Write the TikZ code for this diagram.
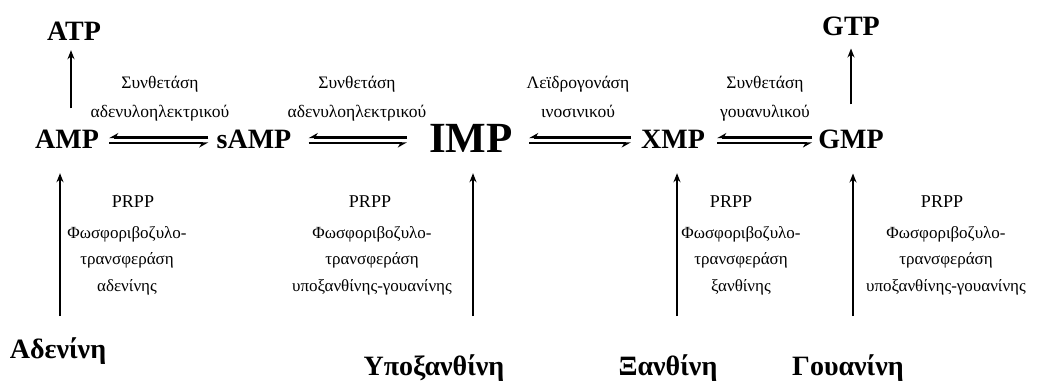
\documentclass[tikz,border=0pt]{standalone}
\usepackage{fontspec}
\setmainfont{Liberation Serif}
\usetikzlibrary{arrows.meta,positioning}

\begin{document}
\begin{tikzpicture}[x=1pt, y=-1pt, >={Stealth[length=9pt,width=7pt]},
    nucl/.style={font=\fontsize{28}{28}\selectfont\bfseries, inner sep=0pt, anchor=base},
    enz/.style={font=\fontsize{17.5}{28.5}\selectfont, inner sep=0pt, anchor=base, align=center},
    salv/.style={enz, font=\fontsize{17}{26.5}\selectfont},
    prpp/.style={font=\fontsize{18}{18}\selectfont, inner sep=0pt, anchor=base},
    up/.style={->, line width=2.4pt},
    eqline/.style={line width=2.4pt, -{Stealth[harpoon,swap,length=8pt,width=9pt]}}]

\useasboundingbox (0,0) rectangle (1046,386);

% nucleotides
\node[nucl] (atp) at (74, 40) {ATP};
\node[nucl] (gtp) at (851, 35) {GTP};
\node[nucl] (amp) at (67, 148) {AMP};
\node[nucl] (samp) at (254, 148) {sAMP};
\node[nucl, font=\fontsize{43}{43}\selectfont\bfseries] (imp) at (471, 152) {IMP};
\node[nucl] (xmp) at (673, 148) {XMP};
\node[nucl] (gmp) at (851, 148) {GMP};

% bases
\node[nucl] (ade) at (58, 358) {Αδενίνη};
\node[nucl] (hyp) at (434, 375) {Υποξανθίνη};
\node[nucl] (xan) at (668, 375) {Ξανθίνη};
\node[nucl] (gua) at (848, 375) {Γουανίνη};

% enzymes on the top row
\node[enz] (syn1) at (160, 117) {Συνθετάση\\αδενυλοηλεκτρικού};
\node[enz] (syn2) at (357, 117) {Συνθετάση\\αδενυλοηλεκτρικού};
\node[enz] (dehy) at (578, 117) {Λεϊδρογονάση\\ινοσινικού};
\node[enz] (syn3) at (765, 117) {Συνθετάση\\γουανυλικού};

% salvage enzymes
\node[prpp] (p1) at (133, 207) {PRPP};
\node[salv] (pt1) at (127, 291) {Φωσφοριβοζυλο-\\τρανσφεράση\\αδενίνης};
\node[prpp] (p2) at (370, 207) {PRPP};
\node[salv] (pt2) at (372, 291) {Φωσφοριβοζυλο-\\τρανσφεράση\\υποξανθίνης-γουανίνης};
\node[prpp] (p3) at (731, 207) {PRPP};
\node[salv] (pt3) at (741, 291) {Φωσφοριβοζυλο-\\τρανσφεράση\\ξανθίνης};
\node[prpp] (p4) at (942, 207) {PRPP};
\node[salv] (pt4) at (946, 291) {Φωσφοριβοζυλο-\\τρανσφεράση\\υποξανθίνης-γουανίνης};

\coordinate (hi) at (0, 137.5);
\coordinate (lo) at (0, 143);

% equilibria
\draw[eqline, shorten <=8pt, shorten >=10pt] (samp.west |- hi) -- (amp.east |- hi);
\draw[eqline, shorten <=10pt, shorten >=8pt] (amp.east |- lo) -- (samp.west |- lo);
\draw[eqline, shorten <=22pt, shorten >=17pt] (imp.west |- hi) -- (samp.east |- hi);
\draw[eqline, shorten <=17pt, shorten >=22pt] (samp.east |- lo) -- (imp.west |- lo);
\draw[eqline, shorten <=10pt, shorten >=16pt] (xmp.west |- hi) -- (imp.east |- hi);
\draw[eqline, shorten <=16pt, shorten >=10pt] (imp.east |- lo) -- (xmp.west |- lo);
\draw[eqline, shorten <=6pt, shorten >=12pt] (gmp.west |- hi) -- (xmp.east |- hi);
\draw[eqline, shorten <=12pt, shorten >=6pt] (xmp.east |- lo) -- (gmp.west |- lo);

% to the triphosphates
\draw[up, shorten <=21pt, shorten >=10pt] ([xshift=-3pt]atp.south |- amp.north) -- ([xshift=-3pt]atp.south);
\draw[up, shorten <=25pt, shorten >=13pt] (gtp.south |- gmp.north) -- (gtp.south);

% from the bases
\coordinate (b1) at (60, 316);
\coordinate (b2) at (473, 316);
\coordinate (b3) at (677, 316);
\coordinate (b4) at (853, 316);
\draw[up, shorten >=25pt] (b1) -- (b1 |- amp.south);
\draw[up, shorten >=21pt] (b2) -- (b2 |- imp.south);
\draw[up, shorten >=25pt] (b3) -- (b3 |- xmp.south);
\draw[up, shorten >=25pt] (b4) -- (b4 |- gmp.south);

\end{tikzpicture}
\end{document}
